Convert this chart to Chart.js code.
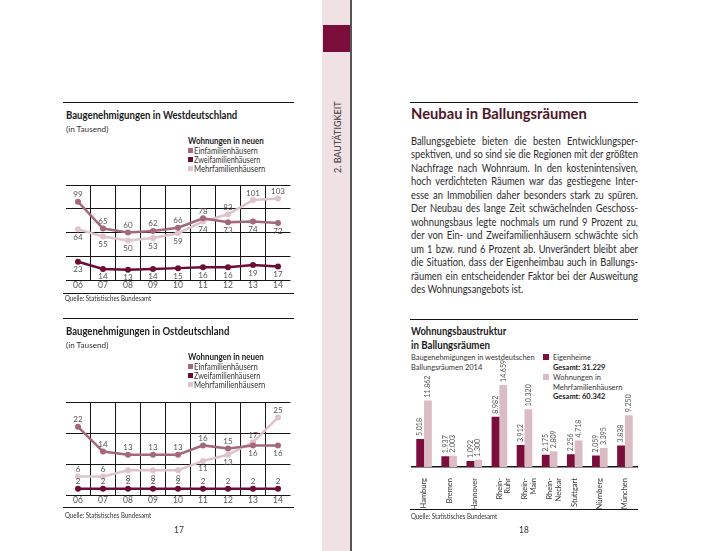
<!DOCTYPE html>
<html lang="de">
<head>
<meta charset="utf-8">
<script src="https://cdn.jsdelivr.net/npm/chart.js@4/dist/chart.umd.min.js"></script>
<style>
  body { margin:0; width:702px; height:551px; position:relative; overflow:hidden; background:#fff; font-family:Lato, sans-serif; color:#222; }
  .rule { position:absolute; height:0; border-top:1.5px solid #151515; }
  .thin { border-top-width:1px; }
  .t { position:absolute; white-space:nowrap; line-height:1; }
  .title { font-weight:bold; font-size:11px; color:#1a1a1a; }
  .sub { font-size:8px; color:#333; }
  .src { font-size:7.5px; color:#333; }
  .leg { font-size:8.5px; color:#333; }
  .leg b { color:#1a1a1a; }
  .leg2 { font-size:8px; color:#333; }
  .leg2 b { color:#1a1a1a; }
  .sw { position:absolute; width:5px; height:5px; }
  .box { position:absolute; }
  #para { position:absolute; left:411px; top:135px; font-size:10.5px; color:#2b2b2b; line-height:13.45px; transform-origin:0 0; }
  .ln { text-align:justify; text-align-last:justify; }
  .ln.last { text-align-last:left; }
</style>
</head>
<body>

<!-- Mittelsteg -->
<div class="box" style="left:322px;top:0;width:28px;height:551px;background:#efe1e4"></div>
<div class="box" style="left:323px;top:25px;width:27px;height:27px;background:#7a0d3b"></div>
<div class="box" style="left:350px;top:0;width:1.5px;height:551px;background:#555"></div>
<div class="t" data-w="72" data-rot="1" data-cx="338" data-cy="137" style="font-size:8.5px;color:#333">2. BAUTÄTIGKEIT</div>

<!-- linke Seite: West -->
<div class="rule" style="left:63px;top:102px;width:231px"></div>
<div class="t title" data-w="171" style="left:66px;top:109px">Baugenehmigungen in Westdeutschland</div>
<div class="t sub" data-w="42" style="left:66px;top:125px">(in Tausend)</div>
<div class="t leg" data-w="76" style="left:188px;top:137px"><b>Wohnungen in neuen</b></div>
<div class="sw" style="left:188px;top:148px;background:#a5677b"></div>
<div class="t leg" data-w="64" style="left:194px;top:147px">Einfamilienhäusern</div>
<div class="sw" style="left:188px;top:157px;background:#6d0d36"></div>
<div class="t leg" data-w="66" style="left:194px;top:156px">Zweifamilienhäusern</div>
<div class="sw" style="left:188px;top:166px;background:#dfc3ca"></div>
<div class="t leg" data-w="71" style="left:194px;top:165px">Mehrfamilienhäusern</div>
<div class="box" style="left:55px;top:175px;width:245px;height:120px"><canvas id="west"></canvas></div>
<div class="rule thin" style="left:63px;top:293px;width:231px"></div>
<div class="t src" data-w="86" style="left:65px;top:295px">Quelle: Statistisches Bundesamt</div>

<!-- linke Seite: Ost -->
<div class="rule" style="left:63px;top:318px;width:231px"></div>
<div class="t title" data-w="163" style="left:66px;top:325px">Baugenehmigungen in Ostdeutschland</div>
<div class="t sub" data-w="42" style="left:66px;top:341px">(in Tausend)</div>
<div class="t leg" data-w="76" style="left:188px;top:353px"><b>Wohnungen in neuen</b></div>
<div class="sw" style="left:188px;top:364px;background:#a5677b"></div>
<div class="t leg" data-w="64" style="left:194px;top:363px">Einfamilienhäusern</div>
<div class="sw" style="left:188px;top:373px;background:#6d0d36"></div>
<div class="t leg" data-w="66" style="left:194px;top:372px">Zweifamilienhäusern</div>
<div class="sw" style="left:188px;top:382px;background:#dfc3ca"></div>
<div class="t leg" data-w="71" style="left:194px;top:381px">Mehrfamilienhäusern</div>
<div class="box" style="left:55px;top:392px;width:245px;height:120px"><canvas id="ost"></canvas></div>
<div class="rule thin" style="left:63px;top:507px;width:231px"></div>
<div class="t src" data-w="86" style="left:65px;top:512px">Quelle: Statistisches Bundesamt</div>
<div class="t" style="left:174px;top:526px;font-size:8.5px;color:#333">17</div>

<!-- rechte Seite -->
<div class="rule" style="left:410px;top:102px;width:228px"></div>
<div class="t" data-w="176" style="left:411px;top:106px;font-size:15px;font-weight:bold;color:#4e1626">Neubau in Ballungsräumen</div>
<div id="para"></div>

<div class="rule" style="left:410px;top:319px;width:228px"></div>
<div class="t title" data-w="95" style="left:411px;top:325px">Wohnungsbaustruktur</div>
<div class="t title" data-w="79" style="left:411px;top:339px">in Ballungsräumen</div>
<div class="t leg2" data-k="0.93" style="left:411px;top:353px">Baugenehmigungen in westdeutschen</div>
<div class="t leg2" data-k="0.93" style="left:411px;top:363px">Ballungsräumen 2014</div>
<div class="sw" style="left:543px;top:354px;width:6px;height:6px;background:#7a0d3b"></div>
<div class="t leg2" data-k="0.93" style="left:553px;top:353px">Eigenheime</div>
<div class="t leg2" data-k="0.93" style="left:553px;top:363px"><b>Gesamt: 31.229</b></div>
<div class="sw" style="left:543px;top:374px;width:6px;height:6px;background:#dcbcc4"></div>
<div class="t leg2" data-k="0.93" style="left:553px;top:373px">Wohnungen in</div>
<div class="t leg2" data-k="0.93" style="left:553px;top:383px">Mehrfamilienhäusern</div>
<div class="t leg2" data-k="0.93" style="left:553px;top:392px"><b>Gesamt: 60.342</b></div>
<div class="box" style="left:405px;top:345px;width:240px;height:170px"><canvas id="bars"></canvas></div>
<div class="rule thin" style="left:410px;top:509px;width:228px"></div>
<div class="t src" data-w="86" style="left:411px;top:513px">Quelle: Statistisches Bundesamt</div>
<div class="t" style="left:519px;top:526px;font-size:8.5px;color:#333">18</div>

<script>
// Baugenehmigungen West (in Tausend)
const years = ['06', '07', '08', '09', '10', '11', '12', '13', '14'];
const westEinfam = [99, 65, 60, 62, 66, 78, 73, 74, 72];
const westZweifam = [23, 14, 13, 14, 15, 16, 16, 19, 17];
const westMehrfam = [64, 55, 50, 53, 59, 74, 83, 101, 103];
// Baugenehmigungen Ost (in Tausend)
const ostEinfam = [22, 14, 13, 13, 13, 16, 15, 16, 16];
const ostZweifam = [2, 2, 2, 2, 2, 2, 2, 2, 2];
const ostMehrfam = [6, 6, 8, 8, 8, 11, 13, 17, 25];
// Ballungsräume 2014
const regions = [['Hamburg'], ['Bremen'], ['Hannover'], ['Rhein-', 'Ruhr'], ['Rhein-', 'Main'], ['Rhein-', 'Neckar'], ['Stuttgart'], ['Nürnberg'], ['München']];
const eigenheime = [5018, 1937, 1092, 8982, 3912, 2175, 2256, 2059, 3838];
const mehrfamWohnungen = [11862, 2003, 1300, 14659, 10320, 2809, 4718, 3395, 9250];

// a = Wert über dem Punkt, b = darunter
const westPos = { ein: 'aaaaaabbb', zwei: 'bbbbbbbbb', mehr: 'bbbbbbaaa' };
const ostPos = { ein: 'aaaaaaabb', zwei: 'aaaaaaaaa', mehr: 'aabbbbbaa' };

const colEin = '#a5677b', colZwei = '#6d0d36', colMehr = '#dfc3ca';

const paraLines = [
    'Ballungsgebiete bieten die besten Entwicklungsper-',
    'spektiven, und so sind sie die Regionen mit der größten',
    'Nachfrage nach Wohnraum. In den kostenintensiven,',
    'hoch verdichteten Räumen war das gestiegene Inter-',
    'esse an Immobilien daher besonders stark zu spüren.',
    'Der Neubau des lange Zeit schwächelnden Geschoss-',
    'wohnungsbaus legte nochmals um rund 9 Prozent zu,',
    'der von Ein- und Zweifamilienhäusern schwächte sich',
    'um 1 bzw. rund 6 Prozent ab. Unverändert bleibt aber',
    'die Situation, dass der Eigenheimbau auch in Ballungs-',
    'räumen ein entscheidender Faktor bei der Ausweitung',
    'des Wohnungsangebots ist.'
];

Chart.defaults.font.family = 'Lato, sans-serif';
Chart.defaults.animation = false;

const fmt = v => String(v).replace(/\B(?=(\d{3})+(?!\d))/g, '.');

const pointLabels = {
    id: 'pointLabels',
    afterDatasetsDraw(chart) {
        const ctx = chart.ctx;
        ctx.save();
        ctx.font = '8px Lato, sans-serif';
        ctx.fillStyle = '#555';
        ctx.textAlign = 'center';
        chart.data.datasets.forEach((ds, i) => {
            chart.getDatasetMeta(i).data.forEach((pt, j) => {
                const up = ds.labelPos[j] === 'a';
                ctx.textBaseline = up ? 'bottom' : 'top';
                ctx.fillText(ds.data[j], pt.x, up ? pt.y - 3 : pt.y + 4);
            });
        });
        ctx.restore();
    }
};

const barLabels = {
    id: 'barLabels',
    afterDatasetsDraw(chart) {
        const ctx = chart.ctx;
        ctx.save();
        ctx.font = '7px Lato, sans-serif';
        ctx.fillStyle = '#555';
        ctx.textAlign = 'left';
        ctx.textBaseline = 'middle';
        chart.data.datasets.forEach((ds, i) => {
            chart.getDatasetMeta(i).data.forEach((bar, j) => {
                ctx.save();
                ctx.translate(bar.x, bar.y - 3);
                ctx.rotate(-Math.PI / 2);
                ctx.fillText(fmt(ds.data[j]), 0, 0);
                ctx.restore();
            });
        });
        ctx.restore();
    }
};

const lineSet = (data, color, pos) => ({
    data, labelPos: pos, borderColor: color, backgroundColor: color,
    borderWidth: 2.5, pointRadius: 3, pointBorderWidth: 0, tension: 0
});

const lineChart = (id, ein, zwei, mehr, pos, max, step, bottomPad) => new Chart(document.getElementById(id), {
    type: 'line',
    data: {
        labels: years,
        datasets: [lineSet(zwei, colZwei, pos.zwei), lineSet(ein, colEin, pos.ein), lineSet(mehr, colMehr, pos.mehr)]
    },
    options: {
        responsive: true,
        maintainAspectRatio: false,
        layout: { padding: { left: 10.5, right: 9.5, top: 10, bottom: bottomPad } },
        plugins: { legend: { display: false }, tooltip: { enabled: false } },
        scales: {
            x: {
                offset: true,
                grid: { offset: true, drawTicks: false, color: c => (c.type === 'tick' && c.index > 0) ? '#151515' : 'rgba(0,0,0,0)' },
                border: { display: false },
                ticks: { color: '#555', font: { size: 8.5 }, padding: 0 },
                afterFit: s => { s.height = 12; }
            },
            y: {
                min: 0, max: max,
                ticks: { stepSize: step, display: false },
                grid: { color: '#151515', drawTicks: false },
                border: { display: false },
                afterFit: s => { s.width = 0; }
            }
        }
    },
    plugins: [pointLabels]
});

lineChart('west', westEinfam, westZweifam, westMehrfam, westPos, 120, 30, 3);
lineChart('ost', ostEinfam, ostZweifam, ostMehrfam, ostPos, 30, 10, 5);

new Chart(document.getElementById('bars'), {
    type: 'bar',
    data: {
        labels: regions,
        datasets: [
            { data: eigenheime, backgroundColor: '#7a0d3b' },
            { data: mehrfamWohnungen, backgroundColor: '#dcbcc4' }
        ]
    },
    options: {
        responsive: true,
        maintainAspectRatio: false,
        layout: { padding: { left: 6.5, right: 7.5, top: 10, bottom: 3 } },
        plugins: { legend: { display: false }, tooltip: { enabled: false } },
        datasets: { bar: { barPercentage: 1, categoryPercentage: 0.62 } },
        scales: {
            x: {
                grid: { display: false },
                border: { color: '#151515', width: 1.5 },
                ticks: { color: '#333', font: { size: 7.5, lineHeight: 1.15 }, maxRotation: 90, minRotation: 90, autoSkip: false, padding: 3 },
                afterFit: s => { s.height = 45; }
            },
            y: { display: false, min: 0, max: 20000 }
        }
    },
    plugins: [barLabels]
});

// Fließtext, Zeilen wie im Original gesetzt
const para = document.getElementById('para');
paraLines.forEach((line, i) => {
    const div = document.createElement('div');
    div.className = 'ln' + (i === paraLines.length - 1 ? ' last' : '');
    div.innerHTML = '<span>' + line + '</span>';
    para.appendChild(div);
});

const fitText = () => {
    const spans = [...para.querySelectorAll('span')].slice(0, -1);
    const maxW = Math.max(...spans.map(s => s.offsetWidth));
    const s = Math.min(1, 226 / maxW);
    para.style.width = (227 / s) + 'px';
    para.style.transform = 'scaleX(' + s + ')';

    document.querySelectorAll('[data-w], [data-k]').forEach(el => {
        const w = el.offsetWidth;
        const k = el.dataset.k ? parseFloat(el.dataset.k) : parseFloat(el.dataset.w) / w;
        if (el.dataset.rot) {
            el.style.left = (parseFloat(el.dataset.cx) - w / 2) + 'px';
            el.style.top = (parseFloat(el.dataset.cy) - el.offsetHeight / 2) + 'px';
            el.style.transformOrigin = '50% 50%';
            el.style.transform = 'rotate(-90deg) scaleX(' + k + ')';
        } else {
            el.style.transformOrigin = '0 50%';
            el.style.transform = 'scaleX(' + k + ')';
        }
    });
};
fitText();
</script>
</body>
</html>
